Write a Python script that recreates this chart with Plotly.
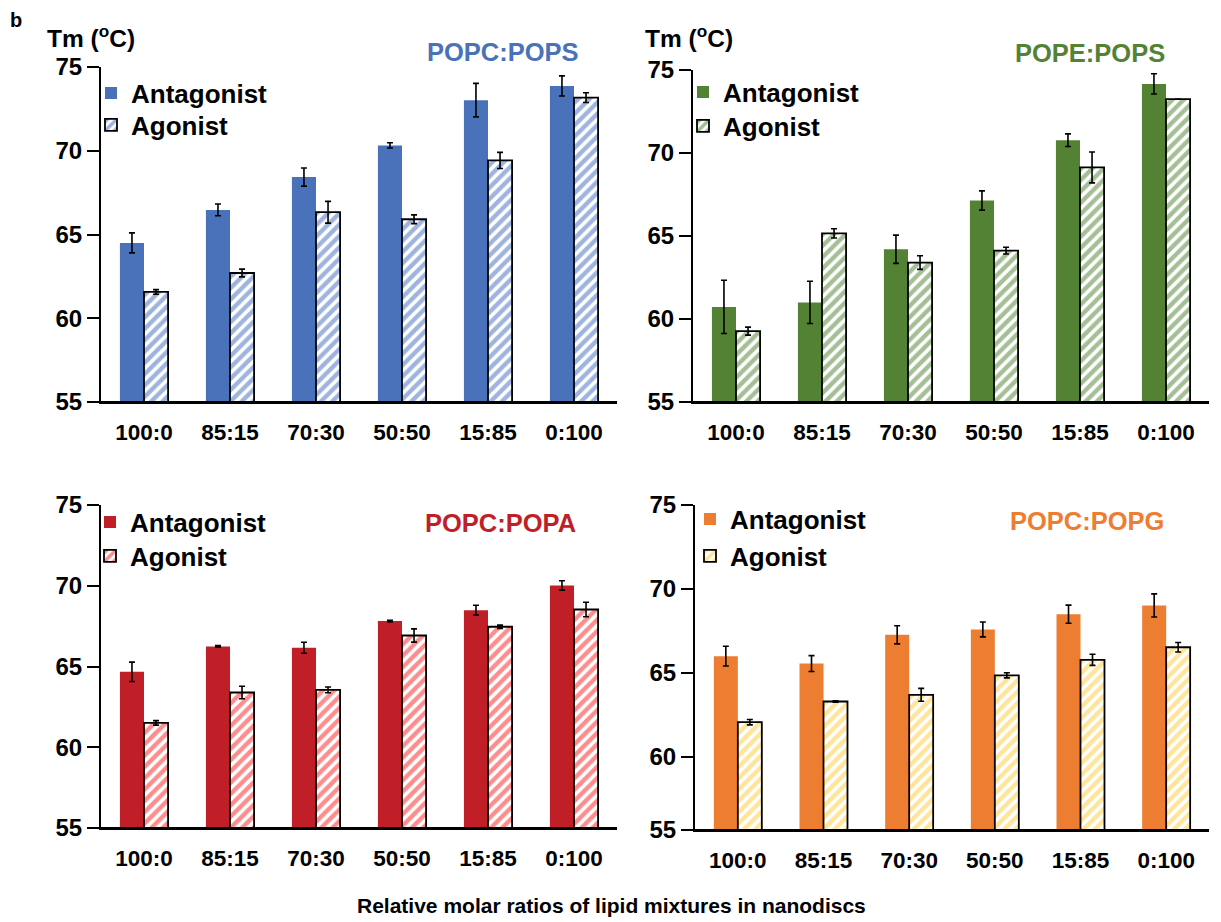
import plotly.graph_objects as go

ratios = ["100:0", "85:15", "70:30", "50:50", "15:85", "0:100"]
y_ticks = [55, 60, 65, 70, 75]
series_names = ["Antagonist", "Agonist"]

popc_pops_antagonist = [64.5, 66.47, 68.43, 70.32, 73.02, 73.87]
popc_pops_antagonist_err = [0.6, 0.35, 0.54, 0.16, 1.0, 0.6]
popc_pops_agonist = [61.57, 62.70, 66.33, 65.91, 69.42, 73.17]
popc_pops_agonist_err = [0.14, 0.23, 0.65, 0.26, 0.48, 0.29]

pope_pops_antagonist = [60.73, 61.0, 64.2, 67.14, 70.77, 74.16]
pope_pops_antagonist_err = [1.6, 1.27, 0.85, 0.58, 0.38, 0.61]
pope_pops_agonist = [59.27, 65.16, 63.4, 64.12, 69.13, 73.24]
pope_pops_agonist_err = [0.24, 0.28, 0.41, 0.2, 0.93, 0.0]

popc_popa_antagonist = [64.67, 66.24, 66.16, 67.81, 68.49, 70.02]
popc_popa_antagonist_err = [0.6, 0.05, 0.34, 0.05, 0.3, 0.29]
popc_popa_agonist = [61.51, 63.39, 63.55, 66.92, 67.46, 68.53]
popc_popa_agonist_err = [0.14, 0.39, 0.18, 0.41, 0.1, 0.45]

popc_popg_antagonist = [66.0, 65.56, 67.27, 67.59, 68.5, 69.02]
popc_popg_antagonist_err = [0.59, 0.47, 0.54, 0.44, 0.54, 0.69]
popc_popg_agonist = [62.07, 63.3, 63.7, 64.86, 65.78, 66.53]
popc_popg_agonist_err = [0.16, 0.04, 0.38, 0.15, 0.33, 0.28]

W, H = 1221, 922
FONT = "Liberation Sans, Arial, sans-serif"

panels = [
    dict(title="POPC:POPS", ant=popc_pops_antagonist, ant_err=popc_pops_antagonist_err,
         ago=popc_pops_agonist, ago_err=popc_pops_agonist_err,
         solid="#4a72ba", stripe="#3d69bd",
         xpx=(101, 617), ypx=(67, 402), yr=(55, 75),
         title_pos=(503, 52), legend_x=91, legend_y=(93, 125)),
    dict(title="POPE:POPS", ant=pope_pops_antagonist, ant_err=pope_pops_antagonist_err,
         ago=pope_pops_agonist, ago_err=pope_pops_agonist_err,
         solid="#548235", stripe="#4a7d2c",
         xpx=(693, 1209), ypx=(70, 402), yr=(55, 75),
         title_pos=(1090, 53), legend_x=683, legend_y=(92, 126)),
    dict(title="POPC:POPA", ant=popc_popa_antagonist, ant_err=popc_popa_antagonist_err,
         ago=popc_popa_agonist, ago_err=popc_popa_agonist_err,
         solid="#c01f28", stripe="#ff1a1a",
         xpx=(101, 617), ypx=(505, 828), yr=(55, 75),
         title_pos=(500, 523), legend_x=90, legend_y=(522, 556)),
    dict(title="POPC:POPG", ant=popc_popg_antagonist, ant_err=popc_popg_antagonist_err,
         ago=popc_popg_agonist, ago_err=popc_popg_agonist_err,
         solid="#ed7d31", stripe="#ffc933",
         xpx=(695, 1209), ypx=(505, 830), yr=(55.65, 75),
         title_pos=(1087, 521), legend_x=690, legend_y=(519, 556)),
]

fig = go.Figure()
layout = {}
annotations = []
shapes = []

for i, p in enumerate(panels):
    n = "" if i == 0 else str(i + 1)
    xa, ya = "x" + n, "y" + n
    lg_a = "legend" + ("" if i == 0 else str(2 * i + 1))
    lg_b = "legend" + str(2 * i + 2)
    fig.add_trace(go.Bar(
        x=ratios, y=p["ant"], name=series_names[0], xaxis=xa, yaxis=ya, legend=lg_a,
        marker=dict(color=p["solid"], line=dict(width=0)),
        error_y=dict(type="data", array=p["ant_err"], color="black", thickness=1.6, width=3),
    ))
    fig.add_trace(go.Bar(
        x=ratios, y=p["ago"], name=series_names[1], xaxis=xa, yaxis=ya, legend=lg_b,
        marker=dict(color="white", line=dict(width=1.8, color="black"),
                    pattern=dict(shape="/", fgcolor=p["stripe"], bgcolor="white",
                                 size=8, solidity=0.55)),
        error_y=dict(type="data", array=p["ago_err"], color="black", thickness=1.6, width=3),
    ))
    x0, x1 = p["xpx"]
    yt, yb = p["ypx"]
    layout["xaxis" + n] = dict(
        domain=[x0 / W, x1 / W], anchor=ya, type="category", range=[-0.5, 5.5],
        showline=True, linecolor="black", linewidth=2, ticks="", showgrid=False,
        tickfont=dict(family=FONT, size=22.5, color="black", weight="bold"),
        ticklabelstandoff=9, fixedrange=True, automargin=False, layer="above traces",
    )
    yr = p["yr"]
    tv = [yr[0]] + y_ticks[1:]
    layout["yaxis" + n] = dict(
        domain=[1 - yb / H, 1 - yt / H], anchor=xa, range=list(yr),
        tickvals=tv, ticktext=[str(t) for t in y_ticks],
        showline=True, linecolor="black", linewidth=2, ticks="outside",
        ticklen=12, tickwidth=2, tickcolor="black", showgrid=False, zeroline=False,
        tickfont=dict(family=FONT, size=24, color="black", weight="bold"),
        automargin=False, layer="above traces",
    )
    shapes.append(dict(
        type="line", xref=xa + " domain", yref=ya + " domain",
        x0=0, x1=1, y0=0, y1=0, line=dict(color="black", width=2), layer="above",
    ))
    for lg, ly in ((lg_a, p["legend_y"][0]), (lg_b, p["legend_y"][1])):
        layout[lg] = dict(
            x=p["legend_x"] / W, y=1 - ly / H, xanchor="left", yanchor="middle",
            font=dict(family=FONT, size=26, color="black", weight="bold"),
            bgcolor="rgba(0,0,0,0)", itemwidth=30, tracegroupgap=0,
        )
    tx, ty = p["title_pos"]
    annotations.append(dict(
        text=p["title"], x=tx / W, y=1 - ty / H, xref="paper", yref="paper",
        showarrow=False, xanchor="center", yanchor="middle",
        font=dict(family=FONT, size=25.5, color=p["solid"], weight="bold"),
    ))

for cx in (91, 689):
    annotations.append(dict(
        text="Tm (<sup>o</sup>C)", x=cx / W, y=1 - 37 / H, xref="paper", yref="paper",
        showarrow=False, xanchor="center", yanchor="middle",
        font=dict(family=FONT, size=24.5, color="black", weight="bold"),
    ))
annotations.append(dict(
    text="b", x=16 / W, y=1 - 20 / H, xref="paper", yref="paper",
    showarrow=False, xanchor="center", yanchor="middle",
    font=dict(family=FONT, size=20, color="black", weight="bold"),
))
annotations.append(dict(
    text="Relative molar ratios of lipid mixtures in nanodiscs",
    x=611 / W, y=1 - 905 / H, xref="paper", yref="paper",
    showarrow=False, xanchor="center", yanchor="middle",
    font=dict(family=FONT, size=21, color="black", weight="bold"),
))

fig.update_layout(
    width=W, height=H, margin=dict(l=0, r=0, t=0, b=0, autoexpand=False),
    paper_bgcolor="white", plot_bgcolor="white",
    barmode="group", bargap=0.44, bargroupgap=0.0,
    annotations=annotations, shapes=shapes, showlegend=True,
    **layout,
)

fig.write_html("out.html")
